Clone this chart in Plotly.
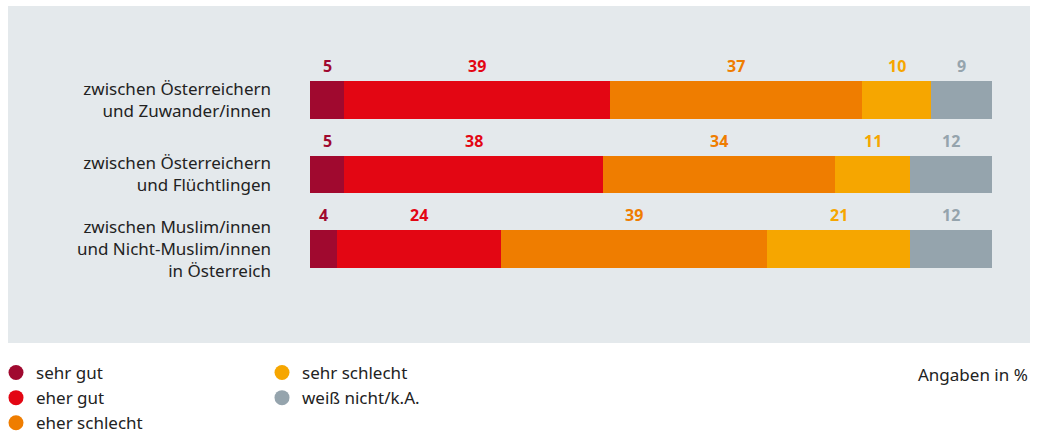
import plotly.graph_objects as go

# Survey data: assessment of coexistence (values in %)
categories = [
    "zwischen Österreichern<br>und Zuwander/innen",
    "zwischen Österreichern<br>und Flüchtlingen",
    "zwischen Muslim/innen<br>und Nicht-Muslim/innen<br>in Österreich",
]
series_names = ["sehr gut", "eher gut", "eher schlecht", "sehr schlecht", "weiß nicht/k.A."]
sehr_gut = [5, 5, 4]
eher_gut = [39, 38, 24]
eher_schlecht = [37, 34, 39]
sehr_schlecht = [10, 11, 21]
weiss_nicht = [9, 12, 12]
series_values = [sehr_gut, eher_gut, eher_schlecht, sehr_schlecht, weiss_nicht]
colors = ["#a0092f", "#e30613", "#ef7d00", "#f6a600", "#95a4ad"]

FONT = "Noto Sans"
TEXT_SIZE = 17
W, H = 1040, 434
ML, MR, MT, MB = 310, 48, 63, 148
PW, PH = W - ML - MR, H - MT - MB


def px_x(px):
    return (px - ML) / PW


def px_y(py):
    return (H - MB - py) / PH


fig = go.Figure()

for name, vals, col in zip(series_names, series_values, colors):
    fig.add_trace(go.Bar(
        y=categories, x=vals, orientation="h", name=name,
        marker=dict(color=col, line=dict(width=0)),
        legendgroup=name, showlegend=False, hoverinfo="x+name",
    ))

# Legend entries with circular markers, split over two columns
for i, (name, col) in enumerate(zip(series_names, colors)):
    fig.add_trace(go.Scatter(
        x=[None], y=[None], mode="markers", name=name,
        marker=dict(color=col, size=15, symbol="circle"),
        legendgroup=name, showlegend=True,
        legend="legend" if i < 3 else "legend2",
    ))

# Value labels above each segment
annotations = []
for ci, cat in enumerate(categories):
    start = 0
    for vals, col in zip(series_values, colors):
        v = vals[ci]
        annotations.append(dict(
            x=start + v / 2, y=cat, xref="x", yref="y", text=f"<b>{v}</b>",
            showarrow=False, yshift=34,
            font=dict(family=FONT, size=16, color=col),
        ))
        start += v

annotations.append(dict(
    x=px_x(1030), y=px_y(374), xref="paper", yref="paper", text="Angaben in %",
    showarrow=False, xanchor="right", yanchor="middle",
    font=dict(family=FONT, size=TEXT_SIZE, color="#222222"),
))

legend_common = dict(
    orientation="v", yanchor="top", xanchor="left",
    font=dict(family=FONT, size=TEXT_SIZE, color="#222222"),
    bgcolor="rgba(0,0,0,0)", itemwidth=30, tracegroupgap=0,
    itemclick=False, itemdoubleclick=False,
)

fig.update_layout(
    width=W, height=H,
    margin=dict(l=ML, r=MR, t=MT, b=MB, pad=0, autoexpand=False),
    barmode="stack", bargap=0.49,
    paper_bgcolor="white", plot_bgcolor="rgba(0,0,0,0)",
    font=dict(family=FONT, size=TEXT_SIZE, color="#222222"),
    xaxis=dict(range=[0, 100], visible=False, fixedrange=True),
    yaxis=dict(
        categoryorder="array", categoryarray=categories, range=[2.5, -0.5],
        showgrid=False, zeroline=False, showline=False, ticks="",
        ticklabelstandoff=38, tickfont=dict(family=FONT, size=TEXT_SIZE, color="#222222"),
        fixedrange=True,
    ),
    legend=dict(x=px_x(-4), y=px_y(355), **legend_common),
    legend2=dict(x=px_x(262), y=px_y(355), **legend_common),
    annotations=annotations,
    shapes=[dict(
        type="rect", xref="paper", yref="paper",
        x0=px_x(8), x1=px_x(1030), y0=px_y(343), y1=px_y(6),
        fillcolor="#e4e9ec", line=dict(width=0), layer="below",
    )],
    showlegend=True,
)

fig.write_html("out.html", config={"displayModeBar": False})
